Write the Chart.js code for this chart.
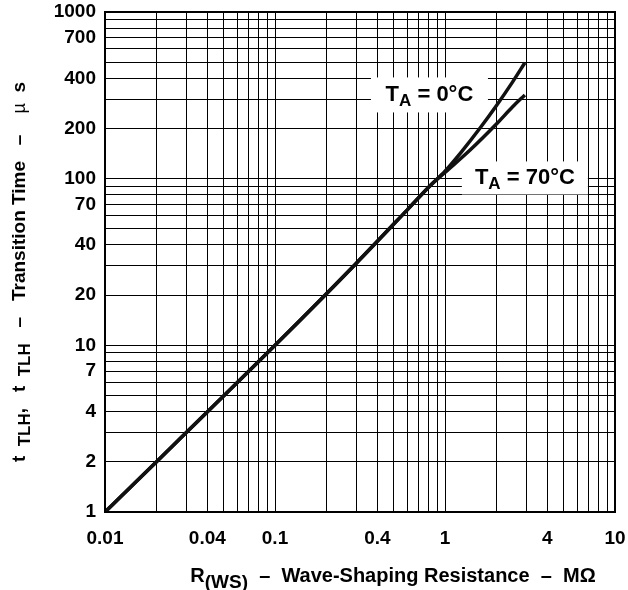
<!DOCTYPE html>
<html>
<head>
<meta charset="utf-8">
<script src="https://cdn.jsdelivr.net/npm/chart.js@4"></script>
<style>
  body { margin: 0; background: #fff; }
  #wrap { width: 628px; height: 590px; }
</style>
</head>
<body>
<div id="wrap"><canvas id="chart"></canvas></div>
<script>
// resistance in MOhm, transition time in microseconds
const resT0 = [0.01, 0.1, 0.3, 0.6, 0.82, 1.0, 1.25, 1.6, 2.0, 2.5, 2.95];
const timeT0 = [1.0, 10, 31, 65, 91, 111, 145, 200, 273, 381, 496];
const resT70 = [0.01, 0.1, 0.3, 0.6, 0.82, 1.0, 1.4, 2.0, 2.5, 2.95];
const timeT70 = [1.0, 10, 31, 65, 91, 109, 148, 212, 270, 318];

const xTickLabels = [0.01, 0.04, 0.1, 0.4, 1, 4, 10];
const yTickLabels = [1, 2, 4, 7, 10, 20, 40, 70, 100, 200, 400, 700, 1000];

// grid lines at 1..9 of every decade
function decadeGrid(lo, hi) {
    const out = [];
    for (let e = lo; e < hi; e++) {
        for (let m = 1; m <= 9; m++) out.push(Number((m * Math.pow(10, e)).toPrecision(3)));
    }
    out.push(Math.pow(10, hi));
    return out;
}
const xGrid = decadeGrid(-2, 1);
const yGrid = decadeGrid(0, 3);

const hasLabel = (list, v) => list.some(t => Math.abs(t - v) / t < 1e-6);

const FONT = "'Liberation Sans', Arial, sans-serif";

function toPoints(xs, ys) {
    return xs.map((x, i) => ({ x: x, y: ys[i] }));
}

// temperature labels, white box behind the text
const curveLabels = [
    { x: 0.81, y: 318, w: 117, h: 35, sub: "A", rest: " = 0°C" },
    { x: 2.95, y: 101, w: 126, h: 33, sub: "A", rest: " = 70°C" },
];

// draws pieces [text, font, baseline shift] centred on 0
function drawPieces(ctx, pieces, centre) {
    let total = 0;
    pieces.forEach(p => { ctx.font = p[1] + FONT; total += ctx.measureText(p[0]).width; });
    let px = centre - total / 2;
    pieces.forEach(p => {
        ctx.font = p[1] + FONT;
        ctx.fillText(p[0], px, p[2]);
        px += ctx.measureText(p[0]).width;
    });
}

const decorPlugin = {
    id: "decor",
    afterDatasetsDraw(chart) {
        const ctx = chart.ctx;
        const xs = chart.scales.x, ys = chart.scales.y;
        const a = chart.chartArea;
        ctx.save();
        ctx.strokeStyle = "#000";
        ctx.lineWidth = 2;
        ctx.strokeRect(a.left, a.top, a.right - a.left, a.bottom - a.top);

        ctx.textBaseline = "alphabetic";
        ctx.textAlign = "left";
        ctx.fillStyle = "#000";
        curveLabels.forEach(l => {
            const cx = xs.getPixelForValue(l.x);
            const cy = ys.getPixelForValue(l.y);
            ctx.fillStyle = "#fff";
            ctx.fillRect(cx - l.w / 2, cy - l.h / 2, l.w, l.h);
            ctx.fillStyle = "#000";
            ctx.save();
            ctx.translate(0, cy + 6);
            drawPieces(ctx, [["T", "bold 22px ", 0], [l.sub, "bold 17px ", 5], [l.rest, "bold 22px ", 0]], cx);
            ctx.restore();
        });

        // x axis title
        ctx.save();
        ctx.translate(0, 582);
        drawPieces(ctx, [["R", "bold 20px ", 0], ["(WS)", "bold 19px ", 6],
                         ["  –  Wave-Shaping Resistance  –  MΩ", "bold 20px ", 0]], 393);
        ctx.restore();

        // y axis title, rotated
        ctx.save();
        ctx.translate(25, 272);
        ctx.rotate(-Math.PI / 2);
        drawPieces(ctx, [["t", "bold 19px ", 0], ["  TLH", "bold 17px ", 5], [",   t", "bold 19px ", 0],
                         ["  TLH", "bold 17px ", 5], ["   –   Transition Time   –    ", "bold 19px ", 0],
                         ["µ", "18px ", 0], ["  s", "bold 19px ", 0]], 0);
        ctx.restore();
        ctx.restore();
    }
};

new Chart(document.getElementById("chart"), {
    type: "line",
    data: {
        datasets: [
            {
                label: "TA = 0°C",
                data: toPoints(resT0, timeT0),
                borderColor: "#111",
                borderWidth: 3.5,
                pointRadius: 0,
                cubicInterpolationMode: "monotone",
            },
            {
                label: "TA = 70°C",
                data: toPoints(resT70, timeT70),
                borderColor: "#111",
                borderWidth: 3.5,
                pointRadius: 0,
                cubicInterpolationMode: "monotone",
            },
        ],
    },
    options: {
        responsive: true,
        maintainAspectRatio: false,
        animation: false,
        layout: { padding: { top: 12, right: 13, left: 0, bottom: 0 } },
        plugins: {
            legend: { display: false },
            tooltip: { enabled: false },
        },
        scales: {
            x: {
                type: "logarithmic",
                min: 0.01,
                max: 10,
                afterBuildTicks: s => { s.ticks = xGrid.map(v => ({ value: v })); },
                afterFit: s => { s.height = 78; s.paddingLeft = 0; s.paddingRight = 0; },
                grid: { color: "#000", lineWidth: 1, drawTicks: false },
                border: { display: false },
                ticks: {
                    autoSkip: false,
                    maxRotation: 0,
                    padding: 15,
                    color: "#000",
                    font: { family: FONT, size: 19, weight: "bold" },
                    callback: v => hasLabel(xTickLabels, v) ? String(v) : "",
                },
            },
            y: {
                type: "logarithmic",
                min: 1,
                max: 1000,
                afterBuildTicks: s => { s.ticks = yGrid.map(v => ({ value: v })); },
                afterFit: s => { s.width = 105; s.paddingTop = 0; s.paddingBottom = 0; },
                grid: { color: "#000", lineWidth: 1, drawTicks: false },
                border: { display: false },
                ticks: {
                    autoSkip: false,
                    padding: 9,
                    color: "#000",
                    font: { family: FONT, size: 19, weight: "bold" },
                    callback: v => hasLabel(yTickLabels, v) ? String(v) : "",
                },
            },
        },
    },
    plugins: [decorPlugin],
});
</script>
</body>
</html>
